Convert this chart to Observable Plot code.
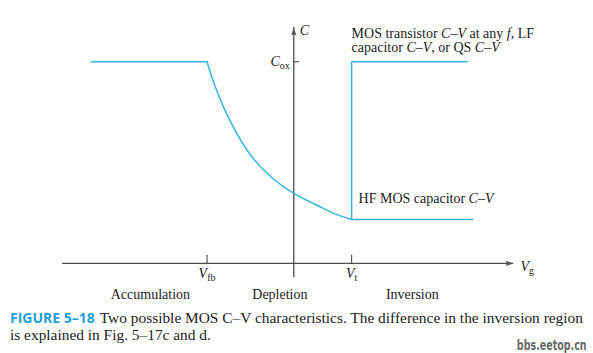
<!DOCTYPE html>
<html><head><meta charset="utf-8">
<script src="https://cdn.jsdelivr.net/npm/d3@7"></script>
<script src="https://cdn.jsdelivr.net/npm/@observablehq/plot@0.6"></script>
<style>
body{margin:0;background:#fff;width:593px;height:353px;position:relative;overflow:hidden}
#chart svg{display:block}
#cap{margin-top:4px;padding-left:10px;font-family:"Liberation Serif",serif;font-size:15.4px;line-height:17px;color:#222;white-space:nowrap}
#cap b{font-family:"Open Sans","Lato",sans-serif;font-weight:700;color:#1ea0d8;font-size:14px;margin-right:5px}
#wm{position:absolute;right:6px;top:339px;font-family:"DejaVu Sans",sans-serif;font-weight:bold;font-size:14px;line-height:13px;color:#6a6a6a;transform:scaleX(0.68);transform-origin:100% 0;white-space:nowrap}
</style></head>
<body>
<div id="chart"></div>
<div id="cap"><b>FIGURE 5–18</b>Two possible MOS C–V characteristics. The difference in the inversion region<br>is explained in Fig. 5–17c and d.</div>
<div id="wm">bbs.eetop.cn</div>
<script>
// Accumulation plateau
const accV = [-3.5, -1.5];
const accC = [1, 1];
// Depletion curve (shared by both characteristics)
const depV = [-1.5, -1.345, -1.086, -0.741, -0.362, 0, 0.414, 0.69, 1.0];
const depC = [1, 0.866, 0.698, 0.535, 0.421, 0.347, 0.287, 0.248, 0.218];
// HF capacitor branch in inversion
const hfV = [1.0, 3.09];
const hfC = [0.218, 0.218];
// LF / transistor / QS branch in inversion
const lfV = [1.0, 1.0, 3.0];
const lfC = [0.218, 1, 1];
// Axes extents
const xAxisV = [-4, 3.8];
const yAxisC = [-0.07, 1.17];
// Tick marks on the Vg axis
const tickV = [-1.5, 1.0];
const tickLabels = ["*V*_{fb}", "*V*_{t}"];
// Region labels
const regions = ["Accumulation", "Depletion", "Inversion"];
const regionV = [-2.48, -0.24, 2.05];
// Curve annotations
const annText = ["MOS transistor *C–V* at any *f*, LF", "capacitor *C–V*, or QS *C–V*", "HF MOS capacitor *C–V*"];
const annV = [1.0, 1.0, 1.12];
const annC = [1.14, 1.07, 0.32];

const blue = "#35b6e2";
const axisCol = "#505050";
const pts = (xs, ys) => xs.map((x, i) => ({x, y: ys[i]}));

const arrowHead = {draw(ctx) { ctx.moveTo(0, 0); ctx.lineTo(-2.6, 8); ctx.lineTo(0, 6.5); ctx.lineTo(2.6, 8); ctx.closePath(); }};

const plot = Plot.plot({
  width: 593, height: 305,
  marginLeft: 62, marginRight: 80, marginTop: 27, marginBottom: 28,
  x: {domain: xAxisV, axis: null},
  y: {domain: yAxisC, axis: null},
  style: {fontFamily: "'Liberation Serif', serif", fontSize: "14px", background: "white", color: "#222"},
  marks: [
    Plot.ruleY([0], {x1: xAxisV[0], x2: xAxisV[1], stroke: axisCol, strokeWidth: 1.3}),
    Plot.ruleX([0], {y1: yAxisC[0], y2: yAxisC[1], stroke: axisCol, strokeWidth: 1.3}),
    Plot.dot([{x: 0, y: yAxisC[1]}], {x: "x", y: "y", symbol: arrowHead, fill: axisCol, stroke: "none"}),
    Plot.dot([{x: xAxisV[1], y: 0}], {x: "x", y: "y", symbol: arrowHead, fill: axisCol, stroke: "none", rotate: 90}),
    Plot.ruleX(tickV, {y1: 0, y2: 0.04, stroke: axisCol, strokeWidth: 1.1}),
    Plot.ruleY([1], {x1: 0, x2: 0.1, stroke: axisCol, strokeWidth: 1.1}),
    Plot.line(pts(accV, accC), {x: "x", y: "y", stroke: blue, strokeWidth: 1.5}),
    Plot.line(pts(depV, depC), {x: "x", y: "y", stroke: blue, strokeWidth: 1.5, curve: "catmull-rom"}),
    Plot.line(pts(hfV, hfC), {x: "x", y: "y", stroke: blue, strokeWidth: 1.5}),
    Plot.line(pts(lfV, lfC), {x: "x", y: "y", stroke: blue, strokeWidth: 1.5}),
    Plot.text(tickV.map((v, i) => ({x: v, t: tickLabels[i]})), {x: "x", y: () => 0, text: "t", dy: 10, textAnchor: "middle"}),
    Plot.text([{x: xAxisV[1], t: "*V*_{g}"}], {x: "x", y: () => 0, text: "t", dx: 7, dy: 3, textAnchor: "start"}),
    Plot.text([{x: 0, y: yAxisC[1], t: "*C*"}], {x: "x", y: "y", text: "t", dx: 6, dy: 3, textAnchor: "start"}),
    Plot.text([{x: 0, y: 1, t: "*C*_{ox}"}], {x: "x", y: "y", text: "t", dx: -4, dy: 0, textAnchor: "end"}),
    Plot.text(regions.map((r, i) => ({x: regionV[i], t: r})), {x: "x", y: () => 0, text: "t", dy: 31, textAnchor: "middle"}),
    Plot.text(annText.map((t, i) => ({x: annV[i], y: annC[i], t})), {x: "x", y: "y", text: "t", textAnchor: "start"})
  ]
});

const NS = "http://www.w3.org/2000/svg";
plot.querySelectorAll("text").forEach(t => {
  const s = t.textContent;
  if (!/[*]|_\{/.test(s)) return;
  t.textContent = "";
  const parts = s.split(/(\*[^*]+\*|_\{[^}]+\})/).filter(p => p);
  let shifted = false;
  for (const p of parts) {
    const ts = document.createElementNS(NS, "tspan");
    if (p.startsWith("_{")) {
      ts.textContent = p.slice(2, -1);
      ts.setAttribute("font-size", "10px");
      ts.setAttribute("dy", "3");
      shifted = true;
    } else {
      if (p.startsWith("*")) { ts.textContent = p.slice(1, -1); ts.setAttribute("font-style", "italic"); }
      else ts.textContent = p;
      if (shifted) { ts.setAttribute("dy", "-3"); shifted = false; }
    }
    t.appendChild(ts);
  }
});
document.getElementById("chart").appendChild(plot);
</script>
</body></html>
